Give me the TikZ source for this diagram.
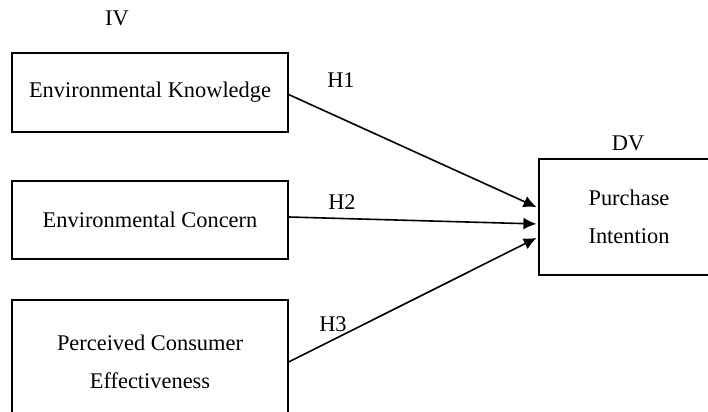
\documentclass[tikz,border=0pt]{standalone}
\usepackage{fontspec}
\setmainfont{Liberation Serif}
\usetikzlibrary{arrows.meta}

\begin{document}
\begin{tikzpicture}[x=0.5pt, y=-0.5pt,
	kotak/.style={draw, line width=0.6pt, minimum width=138pt, align=center, font=\fontsize{11.2}{19}\selectfont},
	teks/.style={font=\fontsize{11.2}{14}\selectfont, inner sep=0pt},
	panah/.style={line width=0.8pt, shorten >=1pt, -{Latex[length=6.5pt,width=6pt]}}
	]
	\useasboundingbox (0,0) rectangle (708,412);

	\node[kotak, minimum height=39.5pt] (ek) at (150,92.5) {Environmental Knowledge};
	\node[kotak, minimum height=39pt]   (ec) at (150,220)  {Environmental Concern};
	\node[kotak, minimum height=62pt]   (pce) at (150,362) {Perceived Consumer\\Effectiveness};
	\node[kotak, minimum width=90pt, minimum height=58pt] (pi) at (629,217) {Purchase\\Intention};

	\node[teks] (iv) at (117,18)  {IV};
	\node[teks] (dv) at (628,143) {DV};
	\node[teks] (h1) at (341,80)  {H1};
	\node[teks] (h2) at (342,202) {H2};
	\node[teks] (h3) at (333,324) {H3};

	\draw[panah] ([yshift=-1pt]ek.east) -- ([yshift=4.5pt]pi.west);
	\draw[panah] ([yshift=1.5pt]ec.east) -- ([yshift=-3.5pt]pi.west);
	\draw[panah] (pce.east) -- ([yshift=-10pt]pi.west);
\end{tikzpicture}
\end{document}
